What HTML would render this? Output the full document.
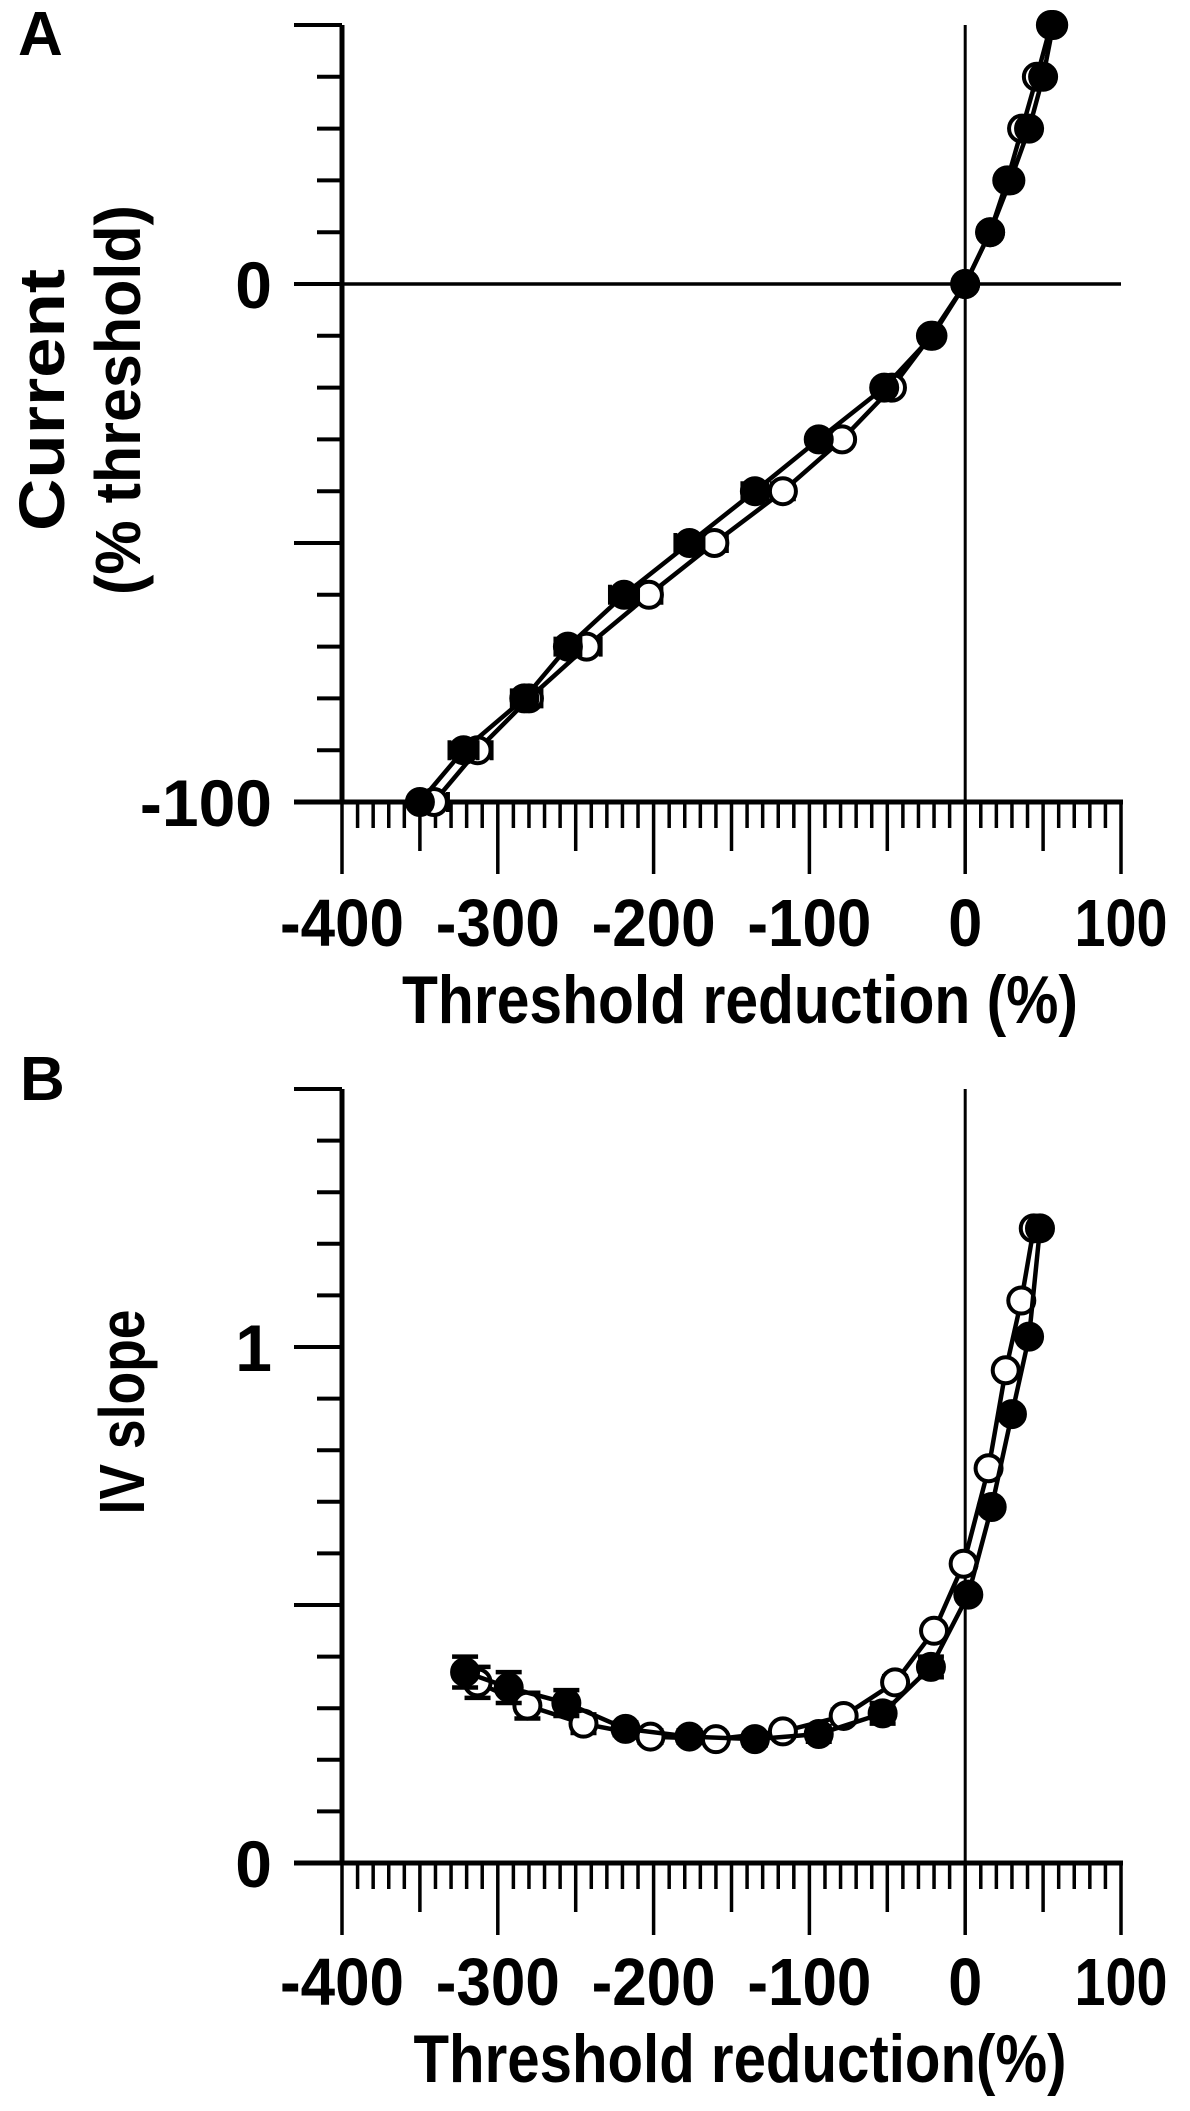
<!DOCTYPE html>
<html><head><meta charset="utf-8"><style>
html,body{margin:0;padding:0;background:#fff;}
svg{display:block;font-family:"Liberation Sans",Arial,sans-serif;font-weight:bold;}
</style></head><body>
<svg id="fig" width="1190" height="2111" viewBox="0 0 1190 2111"></svg>
<script>
// Panel A data
const aFilledX = [56.5,50,41,29,16,0,-21,-52,-94,-135,-177,-219,-255,-283,-322,-350];
const aFilledY = [50,40,30,20,10,0,-10,-20,-30,-40,-50,-60,-70,-80,-90,-100];
const aFilledErr = [0,0,0,0,0,0,0,4,5,8,9,9,8,8,9,0];
const aOpenX = [55,46,36.5,27,16,0,-22,-47,-79,-117,-161,-203,-243,-280,-313,-341];
const aOpenY = [50,40,30,20,10,0,-10,-20,-30,-40,-50,-60,-70,-80,-90,-100];
const aOpenErr = [0,0,0,0,0,0,0,3,5,7,8,8,9,8,9,9];
// Panel B data
const bFilledX = [48,41,30,17,2,-22,-53,-94,-135,-177,-218,-256,-293,-321];
const bFilledY = [1.23,1.02,0.87,0.69,0.52,0.38,0.29,0.25,0.24,0.245,0.26,0.31,0.34,0.37];
const bFilledErr = [0,0,0,0,0,0.02,0.02,0.015,0.012,0.012,0.012,0.025,0.03,0.03];
const bOpenX = [44,36,26,15,-1,-20,-45,-78,-117,-160,-202,-245,-281,-313];
const bOpenY = [1.23,1.09,0.955,0.765,0.58,0.45,0.35,0.285,0.255,0.24,0.245,0.27,0.305,0.35];
const bOpenErr = [0,0,0,0,0,0,0.012,0.012,0.01,0.01,0.012,0.018,0.025,0.03];
const xTickLabels = ["-400","-300","-200","-100","0","100"];
const xTickValues = [-400,-300,-200,-100,0,100];

const NS="http://www.w3.org/2000/svg";
const svg=document.getElementById('fig');
function mk(tag,attrs,parent){const e=document.createElementNS(NS,tag);for(const k in attrs)e.setAttribute(k,attrs[k]);(parent||svg).appendChild(e);return e;}
const X0=342,X1=1121;
function xs(v){return X0+(v+400)/500*(X1-X0);}

function panel(g,yTop,yBot,vTop,vBot,yMinorStep,yMajorVals,yLabels,yLabelVals,xLabelBase,titleBase,titleText,titleLen,zeroH){
  const ys=v=>yBot+(v-vBot)/(vTop-vBot)*(yTop-yBot);
  let ax=mk('line',{x1:X0,y1:yTop,x2:X0,y2:yBot,stroke:'#000','stroke-width':5},g);
  
  let xa=mk('line',{x1:X0-48,y1:yBot,x2:X1+2,y2:yBot,stroke:'#000','stroke-width':5},g);
  
  const n=Math.round((vTop-vBot)/yMinorStep);
  for(let i=0;i<=n;i++){const v=vBot+i*yMinorStep;const major=yMajorVals.some(m=>Math.abs(m-v)<1e-6);
    const t=mk('line',{x1:major?X0-48:X0-25,y1:ys(v),x2:X0,y2:ys(v),stroke:'#000','stroke-width':4},g);
    }
  yLabels.forEach((l,i)=>{const t=mk('text',{x:272,y:ys(yLabelVals[i])+24,'font-size':66,'text-anchor':'end'},g);t.textContent=l;
    });
  for(let v=-400;v<=100;v+=10){const len=(v%100===0)?72:((v%50===0)?49:26);
    const t=mk('line',{x1:xs(v),y1:yBot,x2:xs(v),y2:yBot+len,stroke:'#000','stroke-width':3.5},g);
    }
  xTickLabels.forEach((l,i)=>{const t=mk('text',{x:xs(xTickValues[i]),y:xLabelBase,'font-size':67,'text-anchor':'middle',textLength:l.length>1?31*l.length:34,lengthAdjust:'spacingAndGlyphs'},g);t.textContent=l;
    });
  const tt=mk('text',{x:740,y:titleBase,'font-size':68,'text-anchor':'middle',textLength:titleLen,lengthAdjust:'spacingAndGlyphs'},g);tt.textContent=titleText;
  
  const vz=mk('line',{x1:xs(0),y1:yTop,x2:xs(0),y2:yBot,stroke:'#000','stroke-width':3},g);
  
  if(zeroH){const hz=mk('line',{x1:X0-48,y1:ys(0),x2:X1,y2:ys(0),stroke:'#000','stroke-width':3.5},g);
    }
  return ys;
}
function series(g,ys,X,Y,E,filled,horizErr,name){
  const sg=mk('g',{},g);
  
  const pts=X.map((x,i)=>xs(x)+','+ys(Y[i])).join(' ');
  const pl=mk('polyline',{points:pts,fill:'none',stroke:'#000','stroke-width':4.5},sg);
  
  X.forEach((x,i)=>{const cx=xs(x),cy=ys(Y[i]);
    if(E[i]>0){
      if(horizErr){const x1=xs(x-E[i]),x2=xs(x+E[i]);
        const eb=mk('path',{d:`M${x1},${cy}H${x2}M${x1},${cy-10}V${cy+10}M${x2},${cy-10}V${cy+10}`,stroke:'#000','stroke-width':4,fill:'none'},sg);
        }
      else{const y1=ys(Y[i]+E[i]),y2=ys(Y[i]-E[i]);
        const eb=mk('path',{d:`M${cx},${y1}V${y2}M${cx-13},${y1}H${cx+13}M${cx-13},${y2}H${cx+13}`,stroke:'#000','stroke-width':4.5,fill:'none'},sg);
        }
    }
    const c=mk('circle',{cx:cx,cy:cy,r:13,fill:filled?'#000':'#fff',stroke:'#000','stroke-width':4},sg);
    
  });
}
const gA=mk('g',{});

const ysA=panel(gA,25,802,50,-100,10,[50,0,-50,-100],["0","-100"],[0,-100],946,1023,"Threshold reduction (%)",676,true);
series(gA,ysA,aOpenX,aOpenY,aOpenErr,false,true,'open-series-a');
series(gA,ysA,aFilledX,aFilledY,aFilledErr,true,true,'filled-series-a');
let la=mk('text',{x:18,y:55,'font-size':62},gA);la.textContent='A';

let t1=mk('text',{transform:'translate(64,400) rotate(-90)','font-size':64,'text-anchor':'middle',textLength:262,lengthAdjust:'spacingAndGlyphs'},gA);t1.textContent='Current';

let t2=mk('text',{transform:'translate(140,400) rotate(-90)','font-size':64,'text-anchor':'middle',textLength:390,lengthAdjust:'spacingAndGlyphs'},gA);t2.textContent='(% threshold)';

const gB=mk('g',{});

const ysB=panel(gB,1089,1863,1.5,0,0.1,[0,0.5,1,1.5],["0","1"],[0,1],2005,2082,"Threshold reduction(%)",653,false);
series(gB,ysB,bOpenX,bOpenY,bOpenErr,false,false,'open-series-b');
series(gB,ysB,bFilledX,bFilledY,bFilledErr,true,false,'filled-series-b');
let lb=mk('text',{x:20,y:1100,'font-size':62},gB);lb.textContent='B';

let t3=mk('text',{transform:'translate(144,1412) rotate(-90)','font-size':64,'text-anchor':'middle',textLength:205,lengthAdjust:'spacingAndGlyphs'},gB);t3.textContent='IV slope';

</script>
</body></html>
